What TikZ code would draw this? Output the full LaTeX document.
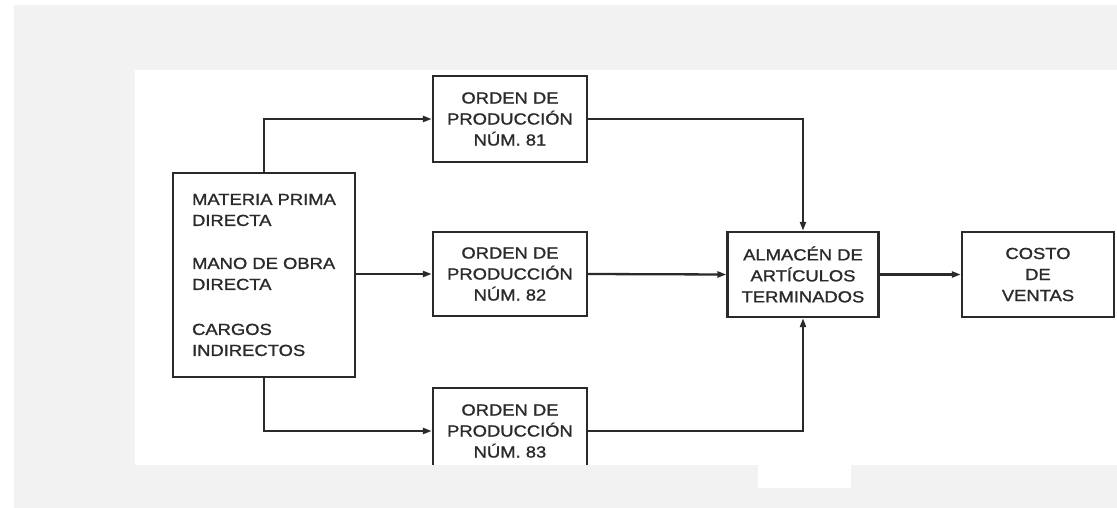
\documentclass[tikz,border=0pt]{standalone}
\usepackage{fontspec}
\setmainfont{Liberation Sans}[FakeStretch=1.15,FakeBold=1.2]
\usetikzlibrary{arrows.meta}
\definecolor{bggray}{HTML}{F2F2F2}
\definecolor{ink}{HTML}{2A2A2A}
\tikzset{
  box/.style={draw=ink, line width=2.3pt, fill=white, inner sep=0pt,
    text=ink, font=\fontsize{16}{21}\selectfont, align=center},
  conn/.style={draw=ink, line width=2.3pt,
    -{Triangle[length=9pt,width=6pt]}},
}
\begin{document}
\begin{tikzpicture}[x=1pt,y=-1pt]
\useasboundingbox (0,0) rectangle (1117,508);
% backgrounds
\fill[white] (0,0) rectangle (1117,508);
\fill[bggray] (14,5) rectangle (1117,508);
\fill[white] (135,70) rectangle (1117,465);

% nodes
\node[box, minimum width=182pt, minimum height=204pt, align=left] (src) at (264,275)
  {MATERIA PRIMA\\DIRECTA\\[22pt]MANO DE OBRA\\DIRECTA\\[24pt]CARGOS\\INDIRECTOS};
\node[box, minimum width=154pt, minimum height=86pt] (o81) at (510,119)
  {ORDEN DE\\PRODUCCIÓN\\NÚM. 81};
\node[box, minimum width=154pt, minimum height=84pt] (o82) at (510,274)
  {ORDEN DE\\PRODUCCIÓN\\NÚM. 82};
\node[box, minimum width=154pt, minimum height=86pt] (o83) at (510,431)
  {ORDEN DE\\PRODUCCIÓN\\NÚM. 83};
\node[box, minimum width=151pt, minimum height=85pt] (alm) at (803,274.5)
  {ALMACÉN DE\\ARTÍCULOS\\TERMINADOS};
\node[box, minimum width=152pt, minimum height=85pt] (costo) at (1038,274.5)
  {COSTO\\DE\\VENTAS};

% connectors
\draw[conn] (src.north) |- (o81.west);
\draw[conn] (src.east |- o82.west) -- (o82.west);
\draw[conn] (src.south) |- (o83.west);
\draw[conn] (o81.east) -| (alm.north);
\draw[conn] (o82.east) -- (alm.west);
\draw[conn] (o83.east) -| (alm.south);
\draw[conn] (alm.east) -- (costo.west);

% lower band that cuts the bottom box
\fill[bggray] (14,465) rectangle (1117,508);
\fill[white] (758,465) rectangle (851,488);
\end{tikzpicture}
\end{document}
